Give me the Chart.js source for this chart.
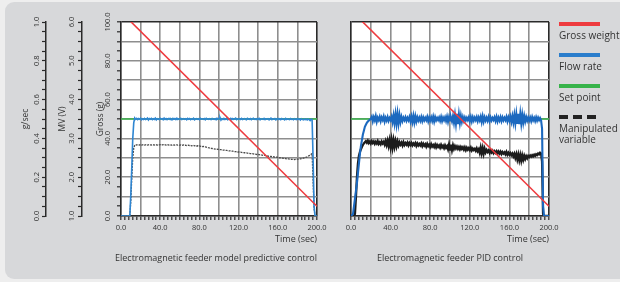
<!DOCTYPE html>
<html>
<head>
<meta charset="utf-8">
<script src="https://cdn.jsdelivr.net/npm/chart.js@4.4.1/dist/chart.umd.min.js"></script>
<style>
  html, body { margin: 0; padding: 0; width: 620px; height: 282px; overflow: hidden; background: #eeeeee; font-family: "Open Sans", sans-serif; }
  #panel { position: absolute; left: 5px; top: 2px; width: 660px; height: 277px; border-radius: 9px; background: #d7d8da; }
  canvas { position: absolute; top: 0; }
  #mpc { left: 0; }
  #pid { left: 335px; }
  .cap { position: absolute; top: 252px; font-size: 9px; line-height: 11px; color: #333; white-space: nowrap; transform: translateX(-50%); }
  #legend { position: absolute; left: 559px; top: 22px; width: 80px; }
  .item { margin-bottom: 12px; }
  .swatch { width: 41px; height: 4px; margin-bottom: 4px; }
  .name { font-size: 10px; line-height: 11px; color: #333; width: 72px; }
</style>
</head>
<body>
<div id="panel"></div>
<canvas id="mpc" width="335" height="282"></canvas>
<canvas id="pid" width="227" height="282"></canvas>
<div class="cap" id="capL" style="left:216px"></div>
<div class="cap" id="capR" style="left:450px"></div>
<div id="legend"></div>
<script>
// sample times (sec), one reading per second
const timeSec = Array.from({ length: 201 }, (_, i) => i);

// model predictive control: flow rate (g/sec) and manipulated variable (V)
const flowMPC = [
  0, 0, 0, 0, 0, 0, 0, 0, 0, 0,
  0.11, 0.25, 0.40, 0.48, 0.505, 0.498, 0.503, 0.497, 0.502, 0.499,
  0.504, 0.496, 0.501, 0.498, 0.503, 0.497, 0.500, 0.505, 0.495, 0.502,
  0.499, 0.503, 0.497, 0.501, 0.498, 0.504, 0.496, 0.502, 0.500, 0.497,
  0.503, 0.499, 0.501, 0.496, 0.504, 0.498, 0.502, 0.497, 0.501, 0.503,
  0.498, 0.500, 0.496, 0.503, 0.499, 0.502, 0.497, 0.504, 0.498, 0.501,
  0.499, 0.503, 0.497, 0.500, 0.502, 0.498, 0.501, 0.496, 0.503, 0.499,
  0.502, 0.497, 0.501, 0.499, 0.504, 0.496, 0.500, 0.502, 0.498, 0.501,
  0.497, 0.503, 0.499, 0.501, 0.498, 0.502, 0.496, 0.503, 0.500, 0.498,
  0.502, 0.499, 0.497, 0.503, 0.500, 0.498, 0.501, 0.496, 0.504, 0.499,
  0.502, 0.507, 0.494, 0.501, 0.498, 0.503, 0.497, 0.500, 0.505, 0.496,
  0.501, 0.499, 0.503, 0.497, 0.502, 0.498, 0.500, 0.504, 0.497, 0.501,
  0.499, 0.502, 0.498, 0.503, 0.497, 0.500, 0.502, 0.499, 0.496, 0.503,
  0.500, 0.498, 0.502, 0.497, 0.501, 0.504, 0.498, 0.500, 0.497, 0.502,
  0.499, 0.503, 0.496, 0.501, 0.500, 0.498, 0.503, 0.497, 0.501, 0.499,
  0.502, 0.498, 0.500, 0.504, 0.497, 0.501, 0.499, 0.502, 0.496, 0.500,
  0.503, 0.498, 0.501, 0.497, 0.502, 0.499, 0.500, 0.496, 0.503, 0.498,
  0.501, 0.499, 0.497, 0.502, 0.498, 0.500, 0.496, 0.501, 0.499, 0.497,
  0.502, 0.498, 0.500, 0.495, 0.501, 0.498, 0.496, 0.500, 0.497, 0.499,
  0.495, 0.500, 0.497, 0.492, 0.499, 0.497, 0.30, 0.05, 0, 0,
  0
];
const mvMPC = [
  1, 1, 1, 1, 1, 1, 1, 1, 1, 1,
  1.40, 2.00, 2.50, 2.75, 2.82, 2.84, 2.83, 2.84, 2.835, 2.83,
  2.84, 2.83, 2.835, 2.84, 2.83, 2.835, 2.84, 2.83, 2.835, 2.84,
  2.835, 2.83, 2.84, 2.835, 2.83, 2.84, 2.835, 2.83, 2.84, 2.835,
  2.84, 2.83, 2.835, 2.84, 2.83, 2.835, 2.83, 2.84, 2.835, 2.83,
  2.835, 2.83, 2.825, 2.835, 2.83, 2.825, 2.83, 2.835, 2.825, 2.83,
  2.825, 2.83, 2.82, 2.825, 2.83, 2.82, 2.825, 2.815, 2.82, 2.825,
  2.815, 2.82, 2.81, 2.815, 2.82, 2.81, 2.815, 2.805, 2.81, 2.80,
  2.805, 2.795, 2.80, 2.79, 2.795, 2.785, 2.78, 2.775, 2.77, 2.76,
  2.755, 2.75, 2.745, 2.74, 2.735, 2.73, 2.725, 2.72, 2.72, 2.715,
  2.715, 2.71, 2.71, 2.705, 2.70, 2.70, 2.695, 2.69, 2.69, 2.685,
  2.68, 2.68, 2.675, 2.67, 2.67, 2.665, 2.66, 2.66, 2.655, 2.65,
  2.65, 2.645, 2.645, 2.64, 2.635, 2.635, 2.63, 2.625, 2.625, 2.62,
  2.615, 2.615, 2.61, 2.605, 2.605, 2.60, 2.595, 2.595, 2.59, 2.585,
  2.585, 2.58, 2.575, 2.575, 2.57, 2.565, 2.56, 2.56, 2.555, 2.55,
  2.545, 2.54, 2.54, 2.535, 2.53, 2.53, 2.525, 2.52, 2.52, 2.515,
  2.51, 2.505, 2.50, 2.50, 2.495, 2.49, 2.485, 2.485, 2.48, 2.475,
  2.47, 2.47, 2.465, 2.465, 2.46, 2.46, 2.46, 2.455, 2.46, 2.46,
  2.465, 2.465, 2.47, 2.475, 2.48, 2.485, 2.49, 2.50, 2.505, 2.515,
  2.525, 2.54, 2.555, 2.57, 2.59, 2.61, 1.90, 1.20, 1, 1,
  1
];

// PID control: flow rate (g/sec) and manipulated variable (V)
const flowPID = [
  0, 0, 0.01, 0.05, 0.09, 0.13, 0.17, 0.22, 0.27, 0.32,
  0.36, 0.39, 0.42, 0.44, 0.46, 0.47, 0.48, 0.487, 0.492, 0.496,
  0.50, 0.512, 0.488, 0.509, 0.493, 0.515, 0.486, 0.507, 0.494, 0.511,
  0.489, 0.508, 0.495, 0.513, 0.487, 0.506, 0.492, 0.51, 0.49, 0.505,
  0.494, 0.512, 0.484, 0.518, 0.479, 0.524, 0.476, 0.526, 0.478, 0.52,
  0.485, 0.511, 0.49, 0.507, 0.494, 0.509, 0.491, 0.506, 0.493, 0.51,
  0.488, 0.513, 0.485, 0.516, 0.483, 0.514, 0.487, 0.509, 0.492, 0.507,
  0.491, 0.51, 0.489, 0.508, 0.493, 0.506, 0.494, 0.511, 0.488, 0.508,
  0.492, 0.509, 0.49, 0.512, 0.487, 0.51, 0.493, 0.506, 0.495, 0.508,
  0.491, 0.511, 0.489, 0.507, 0.494, 0.509, 0.49, 0.512, 0.486, 0.51,
  0.492, 0.507, 0.488, 0.515, 0.482, 0.521, 0.476, 0.527, 0.474, 0.523,
  0.48, 0.516, 0.486, 0.51, 0.491, 0.508, 0.493, 0.506, 0.494, 0.509,
  0.49, 0.511, 0.488, 0.509, 0.492, 0.507, 0.494, 0.51, 0.489, 0.508,
  0.493, 0.512, 0.485, 0.514, 0.487, 0.509, 0.492, 0.507, 0.491, 0.51,
  0.489, 0.508, 0.493, 0.506, 0.495, 0.509, 0.49, 0.511, 0.488, 0.507,
  0.492, 0.51, 0.489, 0.508, 0.493, 0.506, 0.494, 0.511, 0.488, 0.509,
  0.491, 0.512, 0.486, 0.515, 0.482, 0.52, 0.478, 0.525, 0.475, 0.527,
  0.474, 0.526, 0.477, 0.521, 0.482, 0.515, 0.487, 0.51, 0.491, 0.508,
  0.492, 0.507, 0.489, 0.51, 0.493, 0.506, 0.49, 0.509, 0.492, 0.507,
  0.494, 0.505, 0.493, 0.45, 0.05, 0, 0, 0, 0, 0,
  0
];
const mvPID = [
  1, 1, 1, 1, 1.05, 1.5, 2.0, 2.35, 2.55, 2.65,
  2.72, 2.78, 2.83, 2.87, 2.90, 2.93, 2.89, 2.94, 2.88, 2.92,
  2.87, 2.93, 2.88, 2.92, 2.86, 2.91, 2.87, 2.93, 2.86, 2.90,
  2.85, 2.92, 2.87, 2.91, 2.84, 2.93, 2.83, 2.94, 2.81, 2.95,
  2.78, 2.96, 2.77, 2.95, 2.79, 2.93, 2.80, 2.92, 2.82, 2.90,
  2.84, 2.89, 2.82, 2.90, 2.83, 2.88, 2.84, 2.89, 2.82, 2.88,
  2.83, 2.88, 2.82, 2.87, 2.83, 2.88, 2.81, 2.87, 2.82, 2.86,
  2.82, 2.87, 2.80, 2.86, 2.81, 2.85, 2.79, 2.86, 2.80, 2.84,
  2.78, 2.85, 2.79, 2.83, 2.78, 2.84, 2.77, 2.83, 2.78, 2.82,
  2.76, 2.83, 2.77, 2.81, 2.75, 2.82, 2.76, 2.80, 2.72, 2.84,
  2.71, 2.84, 2.70, 2.82, 2.73, 2.80, 2.74, 2.79, 2.73, 2.78,
  2.72, 2.78, 2.73, 2.77, 2.71, 2.77, 2.70, 2.76, 2.71, 2.75,
  2.70, 2.76, 2.69, 2.74, 2.70, 2.73, 2.68, 2.74, 2.67, 2.72,
  2.63, 2.76, 2.62, 2.75, 2.61, 2.73, 2.64, 2.70, 2.65, 2.69,
  2.63, 2.69, 2.64, 2.68, 2.62, 2.67, 2.63, 2.67, 2.61, 2.66,
  2.61, 2.66, 2.60, 2.65, 2.61, 2.64, 2.59, 2.65, 2.58, 2.63,
  2.58, 2.62, 2.57, 2.61, 2.54, 2.60, 2.50, 2.59, 2.46, 2.58,
  2.44, 2.57, 2.43, 2.56, 2.45, 2.55, 2.47, 2.54, 2.49, 2.55,
  2.52, 2.56, 2.53, 2.57, 2.54, 2.58, 2.55, 2.59, 2.57, 2.61,
  2.59, 2.63, 2.61, 2.40, 1.05, 1, 1, 1, 1, 1,
  1
];

// gross weight (g): straight fall, runs off the top of the plot at the start
const grossTime = [0, 200];
const grossMPC = [105.2, 5.0];
const grossPID = [106.0, 5.0];

// set point (g/sec)
const setTime = [0, 200];
const setPoint = [0.5, 0.5];

const seriesNames = ['Gross weight', 'Flow rate', 'Set point', 'Manipulated variable'];
const seriesColors = ['#ee3b3f', '#2a7dcc', '#37b34a', '#222222'];
const captions = ['Electromagnetic feeder model predictive control', 'Electromagnetic feeder PID control'];

Chart.defaults.font.family = '"Open Sans", sans-serif';
Chart.defaults.color = '#333';

const pts = (xs, ys) => xs.map((x, i) => ({ x, y: ys[i] }));
const onStep = (v, base, step) => Math.abs((v - base) / step - Math.round((v - base) / step)) < 1e-6;

const GRID = '#8e8e8e';
const EDGE = '#2a2a2a';
const NONE = 'rgba(0,0,0,0)';

const plotBackground = {
  id: 'plotBackground',
  beforeDraw(chart) {
    const { ctx, chartArea: a } = chart;
    ctx.save();
    ctx.fillStyle = '#fff';
    ctx.fillRect(a.left, a.top, a.width, a.height);
    ctx.restore();
  }
};

function sideAxis(min, max, step, labelStep, title, weight, width, titlePad, tickPad) {
  return {
    type: 'linear', position: 'left', min, max, weight,
    afterFit: s => { s.width = width; },
    ticks: {
      stepSize: step, autoSkip: false, minRotation: 90, maxRotation: 90,
      crossAlign: 'center', padding: tickPad, font: { size: 7.5 },
      callback: v => (onStep(v, min, labelStep) ? v.toFixed(1) : '')
    },
    grid: { drawOnChartArea: false, tickLength: 4, tickColor: EDGE, tickWidth: 1.2 },
    border: { color: EDGE, width: 1.5 },
    title: { display: true, text: title, font: { size: 8.5 }, padding: { top: titlePad, bottom: 0 } }
  };
}

function makeChart(id, flow, mv, gross, withAxes) {
  const gsec = sideAxis(0, 1, 0.05, 0.2, 'g/sec', 2, 38, 12, 0);
  const mvAxis = sideAxis(1, 6, 0.25, 1, 'MV (V)', 1, 36, 11, 1);
  const grossAxis = sideAxis(0, 100, 5, 20, 'Gross (g)', 0, 39, 13, 0);
  grossAxis.grid = {
    drawOnChartArea: true, lineWidth: 1.6, tickLength: 4, tickColor: EDGE, tickWidth: 1.2,
    color: c => (onStep(c.tick.value, 0, 10) ? (c.tick.value === 100 ? EDGE : GRID) : NONE)
  };
  if (!withAxes) {
    // the PID plot carries no scales of its own on the left
    gsec.display = false;
    delete gsec.afterFit;
    mvAxis.display = false;
    delete mvAxis.afterFit;
    grossAxis.afterFit = s => { s.width = 0; };
    grossAxis.ticks.display = false;
    grossAxis.title.display = false;
    grossAxis.grid.drawTicks = false;
  }

  return new Chart(document.getElementById(id), {
    type: 'line',
    data: {
      datasets: [
        { label: seriesNames[0], data: pts(grossTime, gross), yAxisID: 'gross',
          borderColor: seriesColors[0], borderWidth: 1.6 },
        { label: seriesNames[1], data: pts(timeSec, flow), yAxisID: 'gsec',
          borderColor: withAxes ? '#2f86d2' : '#1c69bf', borderWidth: withAxes ? 1.6 : 2.1 },
        { label: seriesNames[3], data: pts(timeSec, mv), yAxisID: 'mv',
          borderColor: withAxes ? '#4a4a4a' : '#1c1c1c', borderWidth: withAxes ? 1.3 : 2.3,
          borderDash: withAxes ? [2, 1] : [] },
        { label: seriesNames[2], data: pts(setTime, setPoint), yAxisID: 'gsec',
          borderColor: seriesColors[2], borderWidth: 1.5 }
      ]
    },
    options: {
      responsive: false,
      animation: false,
      devicePixelRatio: 1,
      elements: { point: { radius: 0 }, line: { tension: 0 } },
      layout: { padding: withAxes ? { left: 8, top: 22, right: 18, bottom: 36 } : { left: 16, top: 22, right: 13, bottom: 36 } },
      plugins: { legend: { display: false }, tooltip: { enabled: false } },
      scales: {
        x: {
          type: 'linear', min: 0, max: 200,
          afterFit: s => { s.height = 30; },
          ticks: {
            stepSize: 4, autoSkip: false, maxRotation: 0, padding: 3, font: { size: 7.5 },
            callback: v => (v % 40 === 0 ? v.toFixed(1) : '')
          },
          grid: {
            lineWidth: 1.6, tickLength: 4, tickColor: EDGE, tickWidth: 1.2,
            color: c => (c.tick.value % 20 === 0 ? (c.tick.value === 200 ? EDGE : GRID) : NONE)
          },
          border: { color: EDGE, width: 1.5 },
          title: { display: true, text: 'Time (sec)', align: 'end', font: { size: 9 }, padding: { top: 0, bottom: 1.5 } }
        },
        gsec,
        mv: mvAxis,
        gross: grossAxis
      }
    },
    plugins: [plotBackground]
  });
}

makeChart('mpc', flowMPC, mvMPC, grossMPC, true);
makeChart('pid', flowPID, mvPID, grossPID, false);

document.getElementById('capL').textContent = captions[0];
document.getElementById('capR').textContent = captions[1];

// legend: a bar above each name
const legendKinds = ['solid', 'solid', 'solid', 'dash'];
document.getElementById('legend').innerHTML = seriesNames.map((name, i) => {
  const bg = legendKinds[i] === 'dash'
    ? `repeating-linear-gradient(90deg, ${seriesColors[i]} 0 9px, transparent 9px 14px)`
    : seriesColors[i];
  return `<div class="item"><div class="swatch" style="background:${bg}"></div><div class="name">${name}</div></div>`;
}).join('');
</script>
</body>
</html>
